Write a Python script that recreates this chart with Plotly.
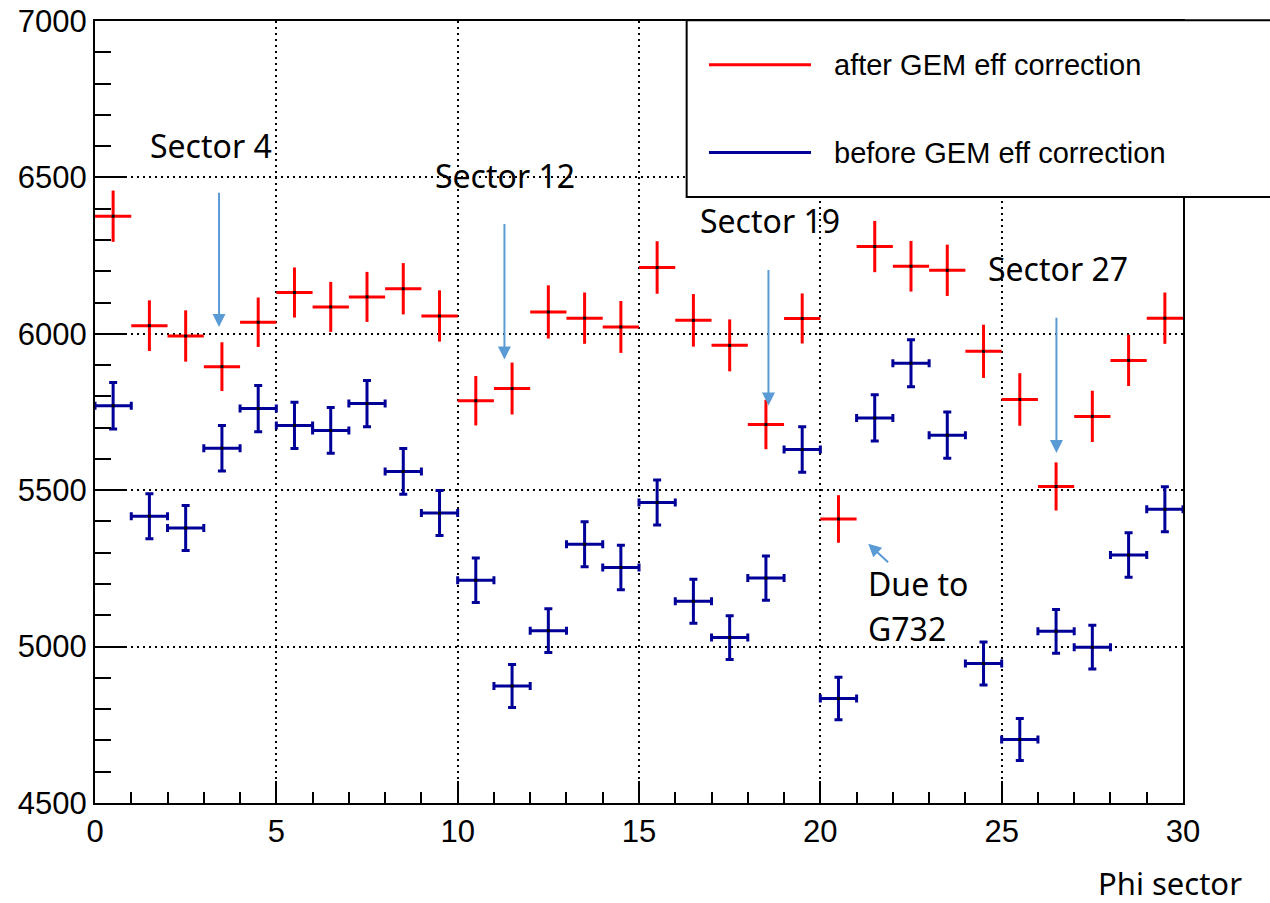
import plotly.graph_objects as go

# Phi sector bins (centres) and bin half-width
sectors = [i + 0.5 for i in range(30)]
bin_half_width = [0.5] * 30

# Counts per phi sector after the GEM efficiency correction
after_counts = [6376, 6026, 5993, 5895, 6037, 6132, 6086, 6118, 6144, 6057,
                5786, 5825, 6070, 6050, 6022, 6212, 6043, 5963, 5710, 6049,
                5408, 6279, 6216, 6203, 5944, 5790, 5512, 5736, 5915, 6050]
after_errors = [82, 81, 82, 78, 79, 80, 80, 80, 82, 82,
                79, 83, 85, 82, 83, 84, 84, 83, 79, 80,
                76, 82, 81, 82, 85, 84, 77, 82, 82, 82]

# Counts per phi sector before the correction
before_counts = [5770, 5417, 5379, 5634, 5761, 5707, 5691, 5777, 5560, 5427,
                 5212, 4874, 5051, 5327, 5253, 5461, 5145, 5029, 5219, 5630,
                 4834, 5731, 5906, 5676, 4946, 4703, 5049, 4998, 5293, 5439]
before_errors = [74, 72, 72, 73, 74, 74, 73, 74, 73, 72,
                 71, 69, 70, 72, 71, 72, 70, 70, 71, 73,
                 68, 74, 75, 74, 69, 67, 70, 70, 71, 72]

series_names = ["after GEM eff correction", "before GEM eff correction"]
RED = "#ff0000"
BLUE = "#000099"
ARROW = "#5b9bd5"

fig = go.Figure()

fig.add_trace(go.Scatter(
    x=sectors, y=after_counts, mode="markers", name=series_names[0],
    marker=dict(color="black", size=3, symbol="square"),
    error_x=dict(type="data", array=bin_half_width, color=RED, thickness=3, width=0),
    error_y=dict(type="data", array=after_errors, color=RED, thickness=3, width=0),
    showlegend=False,
))
fig.add_trace(go.Scatter(
    x=sectors, y=before_counts, mode="markers", name=series_names[1],
    marker=dict(color="black", size=3, symbol="square"),
    error_x=dict(type="data", array=bin_half_width, color=BLUE, thickness=3, width=4),
    error_y=dict(type="data", array=before_errors, color=BLUE, thickness=3, width=4),
    showlegend=False,
))

tick_font = dict(family="Liberation Sans, Arial, sans-serif", size=31, color="black")
note_font = dict(family="Noto Sans, sans-serif", size=32, color="black")

fig.update_xaxes(
    range=[0, 30], dtick=5, tick0=0, ticks="inside", ticklen=22, tickwidth=1.5,
    tickcolor="black", showline=True, linecolor="black", linewidth=2, mirror=True,
    showgrid=True, gridcolor="black", gridwidth=1.5, griddash="2px,4px",
    zeroline=False, tickfont=tick_font, automargin=False,
    minor=dict(dtick=1, ticks="inside", ticklen=11, tickwidth=1.5,
               tickcolor="black", showgrid=False),
)
fig.update_yaxes(
    range=[4500, 7000], dtick=500, tick0=4500, ticks="inside", ticklen=31,
    tickwidth=1.5, tickcolor="black", showline=True, linecolor="black",
    linewidth=2, mirror=True, showgrid=True, gridcolor="black", gridwidth=1.5,
    griddash="2px,4px", zeroline=False, tickfont=tick_font, automargin=False,
    minor=dict(dtick=100, ticks="inside", ticklen=16, tickwidth=1.5,
               tickcolor="black", showgrid=False),
)

annotations = []

# Sector labels with arrows pointing at the low sectors
sector_notes = [
    ("Sector 4", 1.45, 6603, 3.42, 6456, 6022),
    ("Sector 12", 9.33, 6507, 11.29, 6356, 5918),
    ("Sector 19", 16.64, 6363, 18.57, 6209, 5771),
    ("Sector 27", 24.58, 6209, 26.51, 6056, 5619),
]
for text, tx, ty, axp, tail_y, tip_y in sector_notes:
    annotations.append(dict(x=tx, y=ty, xref="x", yref="y", text=text,
                            showarrow=False, xanchor="left", yanchor="middle",
                            font=note_font))
    annotations.append(dict(x=axp, y=tip_y, ax=axp, ay=tail_y, xref="x", yref="y",
                            axref="x", ayref="y", text="", showarrow=True,
                            arrowhead=2, arrowsize=1.3, arrowwidth=2,
                            arrowcolor=ARROW, standoff=0, startstandoff=0))

annotations.append(dict(x=21.27, y=5202, xref="x", yref="y", text="Due to",
                        showarrow=False, xanchor="left", yanchor="middle", font=note_font))
annotations.append(dict(x=21.27, y=5058, xref="x", yref="y", text="G732",
                        showarrow=False, xanchor="left", yanchor="middle", font=note_font))
annotations.append(dict(x=21.32, y=5329, ax=21.91, ay=5265, xref="x", yref="y",
                        axref="x", ayref="y", text="", showarrow=True,
                        arrowhead=2, arrowsize=1.3, arrowwidth=2,
                        arrowcolor=ARROW, standoff=0, startstandoff=0))

# Axis title at the lower right
annotations.append(dict(x=1.056, y=-0.102, xref="paper", yref="paper",
                        text="Phi sector", showarrow=False, xanchor="right",
                        yanchor="middle", font=dict(family="Noto Sans, sans-serif",
                                                    size=31, color="black")))

# Legend box drawn in paper coordinates
legend_font = dict(family="Liberation Sans, Arial, sans-serif", size=29, color="black")
shapes = [
    dict(type="rect", xref="paper", yref="paper", x0=0.5438, x1=1.09,
         y0=0.7749, y1=1.0009, fillcolor="white", line=dict(color="black", width=2),
         layer="above"),
    dict(type="line", xref="paper", yref="paper", x0=0.5643, x1=0.6581,
         y0=0.9442, y1=0.9442, line=dict(color=RED, width=3), layer="above"),
    dict(type="line", xref="paper", yref="paper", x0=0.5643, x1=0.6581,
         y0=0.8317, y1=0.8317, line=dict(color=BLUE, width=3), layer="above"),
]
annotations.append(dict(x=0.6775, y=0.9442, xref="paper", yref="paper",
                        text=series_names[0], showarrow=False, xanchor="left",
                        yanchor="middle", font=legend_font))
annotations.append(dict(x=0.6775, y=0.8317, xref="paper", yref="paper",
                        text=series_names[1], showarrow=False, xanchor="left",
                        yanchor="middle", font=legend_font))

fig.update_layout(
    width=1270, height=903,
    margin=dict(l=95, r=87, t=21, b=100, autoexpand=False),
    plot_bgcolor="white", paper_bgcolor="white",
    annotations=annotations, shapes=shapes,
    showlegend=False,
)

fig.write_html("out.html")
